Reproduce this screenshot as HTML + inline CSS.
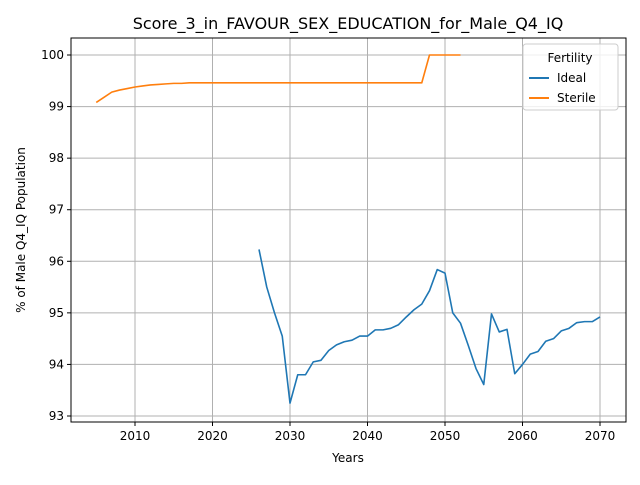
<!DOCTYPE html>
<html><head><meta charset="utf-8"><style>
body{margin:0;background:#fff;font-family:"Liberation Sans","DejaVu Sans",sans-serif}
svg text{font-family:"DejaVu Sans","Liberation Sans",sans-serif}
</style></head><body>
<svg width="640" height="480" viewBox="0 0 640 480">
<g id="grid"></g>
<g id="lines"></g>
<rect x="71" y="38" width="555" height="384" fill="none" stroke="#000" stroke-width="1"/>
<g id="ticks"></g>
<text x="348" y="29" text-anchor="middle" font-size="16">Score_3_in_FAVOUR_SEX_EDUCATION_for_Male_Q4_IQ</text>
<text x="348" y="462" text-anchor="middle" font-size="12">Years</text>
<text transform="translate(25,230) rotate(-90)" text-anchor="middle" font-size="12">% of Male Q4_IQ Population</text>
<g>
<rect x="523" y="44" width="95" height="66" rx="3" fill="#fff" fill-opacity="0.8" stroke="#ccc"/>
<text x="570" y="62" text-anchor="middle" font-size="12">Fertility</text>
<line x1="529" y1="78" x2="549" y2="78" stroke="#1f77b4" stroke-width="2"/>
<text x="557" y="82" font-size="12">Ideal</text>
<line x1="529" y1="98" x2="549" y2="98" stroke="#ff7f0e" stroke-width="2"/>
<text x="557" y="102" font-size="12">Sterile</text>
</g>
</svg>
<script>
const xTicks=[2010,2020,2030,2040,2050,2060,2070];
const yTicks=[93,94,95,96,97,98,99,100];
const idealYears=[2026,2027,2028,2029,2030,2031,2032,2033,2034,2035,2036,2037,2038,2039,2040,2041,2042,2043,2044,2045,2046,2047,2048,2049,2050,2051,2052,2053,2054,2055,2056,2057,2058,2059,2060,2061,2062,2063,2064,2065,2066,2067,2068,2069,2070];
const idealValues=[96.23,95.5,95.0,94.55,93.25,93.8,93.8,94.05,94.08,94.27,94.38,94.44,94.47,94.55,94.55,94.67,94.67,94.7,94.77,94.92,95.06,95.17,95.43,95.84,95.77,95.0,94.8,94.37,93.92,93.61,94.98,94.63,94.68,93.82,94.0,94.2,94.25,94.45,94.5,94.65,94.7,94.81,94.83,94.83,94.92];
const sterileYears=[2005,2006,2007,2008,2009,2010,2011,2012,2013,2014,2015,2016,2017,2018,2019,2020,2021,2022,2023,2024,2025,2026,2027,2028,2029,2030,2031,2032,2033,2034,2035,2036,2037,2038,2039,2040,2041,2042,2043,2044,2045,2046,2047,2048,2049,2050,2051,2052];
const sterileValues=[99.08,99.18,99.28,99.32,99.35,99.38,99.4,99.42,99.43,99.44,99.45,99.45,99.46,99.46,99.46,99.46,99.46,99.46,99.46,99.46,99.46,99.46,99.46,99.46,99.46,99.46,99.46,99.46,99.46,99.46,99.46,99.46,99.46,99.46,99.46,99.46,99.46,99.46,99.46,99.46,99.46,99.46,99.46,100,100,100,100,100];
const X=v=>135+(v-2010)*7.75;
const Y=v=>416-(v-93)*51.57;
const NS="http://www.w3.org/2000/svg";
function mk(t,p,a){const e=document.createElementNS(NS,t);for(const k in a)e.setAttribute(k,a[k]);p.appendChild(e);return e;}
const grid=document.getElementById('grid'),ticks=document.getElementById('ticks'),lines=document.getElementById('lines');
xTicks.forEach(t=>{const x=X(t);
const g=mk('line',grid,{x1:x,x2:x,y1:38,y2:422,stroke:'#b0b0b0','stroke-width':1});


mk('line',ticks,{x1:x,x2:x,y1:422,y2:426,stroke:'#000'});
const tx=mk('text',ticks,{x:x,y:440,'text-anchor':'middle','font-size':12});tx.textContent=t;

});
yTicks.forEach(t=>{const y=Y(t);
const g=mk('line',grid,{x1:71,x2:626,y1:y,y2:y,stroke:'#b0b0b0','stroke-width':1});


mk('line',ticks,{x1:67,x2:71,y1:y,y2:y,stroke:'#000'});
const tx=mk('text',ticks,{x:64,y:y+4,'text-anchor':'end','font-size':12});tx.textContent=t;

});
function series(xs,ys,c,name){const p=mk('polyline',lines,{points:xs.map((x,i)=>X(x)+','+Y(ys[i])).join(' '),fill:'none',stroke:c,'stroke-width':1.6,'stroke-linejoin':'round'});

}
series(idealYears,idealValues,'#1f77b4','ideal-line');
series(sterileYears,sterileValues,'#ff7f0e','sterile-line');
</script>
</body></html>
